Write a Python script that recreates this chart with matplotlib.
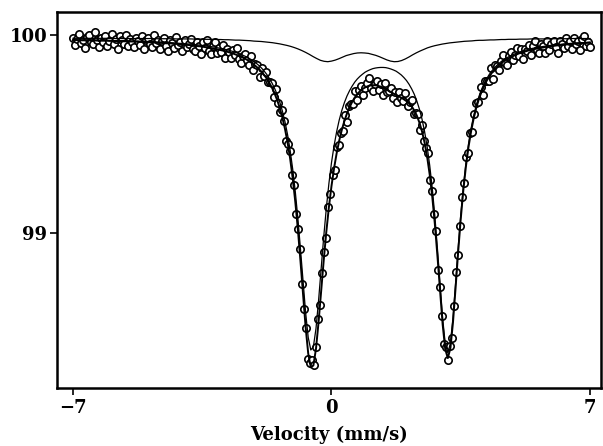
import numpy as np
import matplotlib
matplotlib.use("Agg")
import matplotlib.pyplot as plt

# measured spectrum, transmission in % (256 channels, -7 .. 7 mm/s)
transmission = [
    99.986, 99.949, 99.982, 100.004, 99.959, 99.976, 99.935, 99.992, 99.999, 99.966,
    99.953, 100.014, 99.977, 99.940, 99.986, 99.962, 99.993, 99.943, 99.970, 100.006,
    99.953, 99.979, 99.927, 99.994, 99.975, 99.956, 100.001, 99.946, 99.981, 99.964,
    99.937, 99.984, 99.970, 99.949, 99.994, 99.929, 99.975, 99.984, 99.955, 99.938,
    100.000, 99.959, 99.977, 99.930, 99.969, 99.985, 99.945, 99.918, 99.977, 99.958,
    99.933, 99.989, 99.947, 99.966, 99.919, 99.975, 99.939, 99.955, 99.978, 99.929,
    99.920, 99.962, 99.944, 99.906, 99.964, 99.935, 99.977, 99.921, 99.906, 99.944,
    99.965, 99.908, 99.933, 99.914, 99.949, 99.884, 99.931, 99.916, 99.886, 99.925,
    99.897, 99.935, 99.880, 99.857, 99.894, 99.904, 99.872, 99.848, 99.892, 99.825,
    99.852, 99.849, 99.786, 99.835, 99.793, 99.815, 99.761, 99.761, 99.755, 99.685,
    99.729, 99.657, 99.610, 99.620, 99.563, 99.467, 99.450, 99.414, 99.291, 99.241,
    99.096, 99.018, 98.920, 98.741, 98.615, 98.518, 98.364, 98.344, 98.357, 98.333,
    98.422, 98.565, 98.634, 98.797, 98.905, 98.977, 99.132, 99.196, 99.291, 99.316,
    99.434, 99.443, 99.503, 99.516, 99.598, 99.562, 99.639, 99.649, 99.652, 99.719,
    99.674, 99.720, 99.743, 99.698, 99.731, 99.759, 99.781, 99.733, 99.718, 99.753,
    99.770, 99.724, 99.750, 99.698, 99.757, 99.714, 99.719, 99.731, 99.682, 99.714,
    99.663, 99.712, 99.683, 99.666, 99.707, 99.643, 99.661, 99.672, 99.599, 99.604,
    99.600, 99.521, 99.546, 99.463, 99.430, 99.404, 99.269, 99.214, 99.094, 99.010,
    98.814, 98.729, 98.580, 98.439, 98.423, 98.359, 98.428, 98.470, 98.632, 98.804,
    98.891, 99.035, 99.184, 99.250, 99.382, 99.406, 99.506, 99.509, 99.599, 99.656,
    99.662, 99.736, 99.698, 99.765, 99.767, 99.767, 99.831, 99.780, 99.848, 99.843,
    99.823, 99.869, 99.898, 99.859, 99.847, 99.892, 99.916, 99.874, 99.899, 99.936,
    99.892, 99.928, 99.878, 99.927, 99.917, 99.948, 99.897, 99.942, 99.968, 99.922,
    99.911, 99.955, 99.944, 99.907, 99.970, 99.925, 99.956, 99.969, 99.940, 99.907,
    99.969, 99.953, 99.932, 99.984, 99.942, 99.970, 99.928, 99.983, 99.952, 99.968,
    99.923, 99.981, 99.996, 99.946, 99.965, 99.940]

# total fit
fit_total = [
    99.974, 99.974, 99.974, 99.973, 99.973, 99.973, 99.973, 99.972, 99.972, 99.972,
    99.971, 99.971, 99.971, 99.971, 99.970, 99.970, 99.969, 99.969, 99.969, 99.968,
    99.968, 99.968, 99.967, 99.967, 99.966, 99.966, 99.965, 99.965, 99.964, 99.963,
    99.963, 99.962, 99.961, 99.961, 99.960, 99.959, 99.958, 99.958, 99.957, 99.956,
    99.955, 99.954, 99.953, 99.951, 99.950, 99.949, 99.947, 99.946, 99.944, 99.943,
    99.941, 99.939, 99.937, 99.935, 99.932, 99.930, 99.927, 99.924, 99.921, 99.918,
    99.914, 99.910, 99.906, 99.901, 99.896, 99.890, 99.884, 99.877, 99.869, 99.860,
    99.850, 99.839, 99.827, 99.813, 99.797, 99.779, 99.757, 99.733, 99.704, 99.671,
    99.631, 99.583, 99.526, 99.458, 99.376, 99.276, 99.157, 99.018, 98.858, 98.688,
    98.523, 98.391, 98.321, 98.331, 98.415, 98.550, 98.707, 98.863, 99.006, 99.131,
    99.237, 99.327, 99.403, 99.467, 99.521, 99.566, 99.604, 99.635, 99.662, 99.684,
    99.701, 99.716, 99.727, 99.735, 99.741, 99.745, 99.746, 99.746, 99.743, 99.739,
    99.733, 99.726, 99.719, 99.711, 99.704, 99.697, 99.690, 99.683, 99.675, 99.666,
    99.655, 99.640, 99.619, 99.593, 99.558, 99.514, 99.457, 99.385, 99.294, 99.181,
    99.043, 98.881, 98.706, 98.538, 98.413, 98.368, 98.418, 98.549, 98.722, 98.904,
    99.071, 99.216, 99.336, 99.434, 99.513, 99.578, 99.632, 99.675, 99.712, 99.742,
    99.768, 99.789, 99.808, 99.824, 99.838, 99.850, 99.861, 99.870, 99.878, 99.886,
    99.892, 99.898, 99.904, 99.909, 99.913, 99.917, 99.921, 99.924, 99.927, 99.930,
    99.933, 99.935, 99.937, 99.940, 99.942, 99.943, 99.945, 99.947, 99.948, 99.950,
    99.951, 99.952, 99.953, 99.954, 99.956, 99.957, 99.957, 99.958, 99.959, 99.960,
    99.961]

# main doublet (subspectrum 1)
fit_doublet1 = [
    99.976, 99.976, 99.975, 99.975, 99.975, 99.975, 99.975, 99.974, 99.974, 99.974,
    99.974, 99.973, 99.973, 99.973, 99.973, 99.972, 99.972, 99.972, 99.971, 99.971,
    99.971, 99.970, 99.970, 99.969, 99.969, 99.969, 99.968, 99.968, 99.967, 99.967,
    99.966, 99.966, 99.965, 99.964, 99.964, 99.963, 99.962, 99.962, 99.961, 99.960,
    99.959, 99.958, 99.957, 99.956, 99.955, 99.954, 99.953, 99.952, 99.950, 99.949,
    99.947, 99.946, 99.944, 99.942, 99.940, 99.938, 99.935, 99.933, 99.930, 99.927,
    99.924, 99.920, 99.916, 99.912, 99.907, 99.902, 99.896, 99.890, 99.883, 99.875,
    99.866, 99.856, 99.845, 99.832, 99.817, 99.800, 99.780, 99.757, 99.730, 99.699,
    99.661, 99.616, 99.562, 99.497, 99.418, 99.322,
    99.208, 99.073, 98.919, 98.755, 98.597, 98.472, 98.409, 98.426, 98.517, 98.659,
    98.821, 98.981, 99.125, 99.250, 99.355, 99.441, 99.512, 99.571, 99.619, 99.659,
    99.692, 99.719, 99.742, 99.762, 99.778, 99.791, 99.802, 99.812, 99.819, 99.825,
    99.830, 99.833, 99.835, 99.836, 99.836, 99.835, 99.832, 99.828, 99.823, 99.817,
    99.808, 99.798, 99.785, 99.770, 99.751, 99.728, 99.701, 99.667, 99.626, 99.576,
    99.513, 99.436, 99.341, 99.224, 99.082, 98.917, 98.739, 98.568, 98.441, 98.394,
    98.443, 98.572, 98.744, 98.924, 99.090, 99.233, 99.352, 99.449, 99.528, 99.592,
    99.645, 99.688, 99.724, 99.753, 99.778, 99.800, 99.818, 99.833, 99.847, 99.859,
    99.869, 99.878, 99.886, 99.893, 99.900, 99.905, 99.910, 99.915, 99.919, 99.923,
    99.927, 99.930, 99.933, 99.935, 99.938, 99.940, 99.942, 99.944, 99.946, 99.948,
    99.949, 99.951, 99.952, 99.953, 99.955, 99.956, 99.957, 99.958, 99.959, 99.960,
    99.961, 99.961, 99.962, 99.963, 99.964]

# weak doublet (subspectrum 2)
fit_doublet2 = [
    99.983, 99.983, 99.983, 99.983, 99.983, 99.983, 99.983, 99.983, 99.983, 99.983,
    99.983, 99.983, 99.982, 99.982, 99.982, 99.982, 99.982, 99.982, 99.982, 99.982,
    99.982, 99.982, 99.981, 99.981, 99.981, 99.981, 99.981, 99.981, 99.980, 99.980,
    99.980, 99.980, 99.980, 99.979, 99.979, 99.979, 99.978, 99.978, 99.978, 99.977,
    99.977, 99.976, 99.976, 99.975, 99.974, 99.974, 99.973, 99.972, 99.971, 99.969,
    99.968, 99.967, 99.965, 99.963, 99.961, 99.958, 99.955, 99.951, 99.947, 99.942,
    99.936, 99.929, 99.921, 99.912, 99.902, 99.891, 99.881, 99.872, 99.867, 99.865,
    99.868, 99.873, 99.880, 99.888, 99.896, 99.901, 99.906, 99.909, 99.910, 99.909,
    99.907, 99.902, 99.897, 99.890, 99.882, 99.874, 99.868, 99.865, 99.866, 99.871,
    99.879, 99.889, 99.900, 99.910, 99.919, 99.927, 99.935, 99.941, 99.946, 99.950,
    99.954, 99.957, 99.960, 99.962, 99.964, 99.966, 99.968, 99.969, 99.970, 99.972,
    99.973, 99.973, 99.974, 99.975, 99.975, 99.976, 99.977, 99.977, 99.978, 99.978,
    99.978, 99.979, 99.979, 99.979, 99.980, 99.980, 99.980, 99.980, 99.980, 99.981,
    99.981, 99.981, 99.981, 99.981, 99.981, 99.982, 99.982, 99.982, 99.982, 99.982,
    99.982]

x_ticks = [-7, 0, 7]
y_ticks = [99, 100]

vel = np.linspace(-7, 7, len(transmission))
vel_fit = np.linspace(-7, 7, len(fit_total))
vel_d1 = np.linspace(-7, 7, len(fit_doublet1))
vel_d2 = np.linspace(-7, 7, len(fit_doublet2))

plt.rcParams['font.family'] = 'DejaVu Serif'
plt.rcParams['font.weight'] = 'bold'

fig = plt.figure(figsize=(6.03, 4.46), dpi=100)
ax = fig.add_axes([57 / 603, 58 / 446, 544 / 603, 376 / 446])

# open circles first, fitted curves drawn over them
ax.plot(vel, transmission, 'o', ms=5.3, mfc='white', mec='black', mew=1.2, zorder=2)
ax.plot(vel_d1, fit_doublet1, '-', color='black', lw=0.9, zorder=3)
ax.plot(vel_d2, fit_doublet2, '-', color='black', lw=0.9, zorder=3)
ax.plot(vel_fit, fit_total, '-', color='black', lw=1.4, zorder=4)

ax.set_xlim(-7.433, 7.298)
ax.set_ylim(98.217, 100.116)
ax.set_xticks(x_ticks)
ax.set_xticklabels(['\u22127', '0', '7'])
ax.set_yticks(y_ticks)
ax.set_yticklabels([str(t) for t in y_ticks])
ax.tick_params(direction='out', length=5, width=1.2, labelsize=13, pad=3)
ax.tick_params(axis='y', pad=2)
for s in ax.spines.values():
    s.set_linewidth(1.8)

ax.set_xlabel('Velocity (mm/s)', fontsize=13, fontweight='bold', labelpad=6)

fig.savefig("out.png", dpi=100)
